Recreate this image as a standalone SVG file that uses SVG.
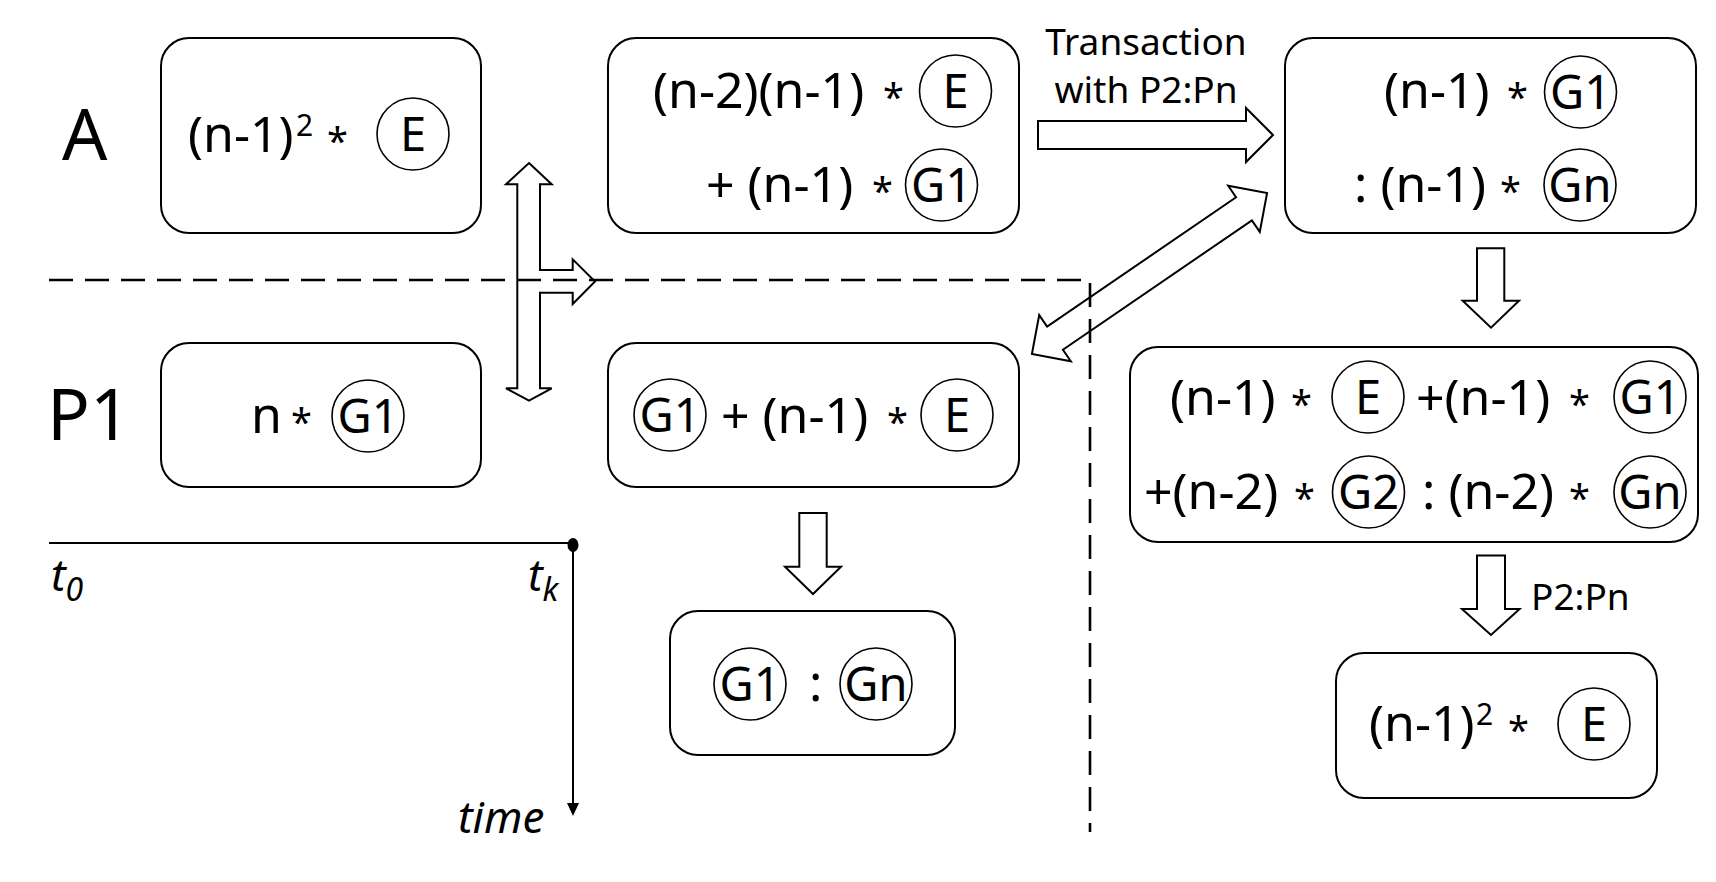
<svg xmlns="http://www.w3.org/2000/svg" width="1716" height="882" viewBox="0 0 1716 882">
<style>
.box{fill:none;stroke:#000;stroke-width:2}
.circ{fill:none;stroke:#000;stroke-width:1.6}
.t{font-family:"Noto Sans","Liberation Sans",sans-serif;font-size:50px;fill:#000}
.c{font-family:"Noto Sans","Liberation Sans",sans-serif;font-size:47px;fill:#000;text-anchor:middle}
.ast{font-size:38px}
.sup{font-size:30px}
.lbl{font-family:"Noto Sans","Liberation Sans",sans-serif;font-size:71px;fill:#000}
.note{font-family:"Noto Sans","Liberation Sans",sans-serif;font-size:37px;fill:#000}
.it{font-family:"Noto Sans","Liberation Sans",sans-serif;font-style:italic;font-size:44px;fill:#000}
.arrow{fill:none;stroke:#000;stroke-width:2;stroke-linejoin:miter}
.dash{fill:none;stroke:#000;stroke-width:2.6;stroke-dasharray:24 12}
.axis{fill:none;stroke:#000;stroke-width:2}
</style>
<rect width="1716" height="882" fill="#fff"/>

<g id="separators">
<path class="dash" d="M49 280 H1090 V832"/>
</g>

<g id="time-axis">
<line class="axis" x1="49" y1="543" x2="573" y2="543"/>
<ellipse cx="573" cy="545" rx="5.5" ry="7" fill="#000"/>
<line class="axis" x1="573" y1="545" x2="573" y2="805"/>
<polygon points="567,803 579,803 573,816" fill="#000"/>
<text class="it" x="51" y="591">t<tspan font-size="32" dy="10">0</tspan></text>
<text class="it" x="528" y="591">t<tspan font-size="32" dy="10">k</tspan></text>
<text class="it" x="458" y="833">time</text>
</g>

<g id="row-labels">
<text class="lbl" x="62" y="160">A</text>
<text class="lbl" x="47" y="440">P1</text>
</g>

<g id="node-a1">
<rect class="box" x="161" y="38" width="320" height="195" rx="28"/>
<text class="t" x="188" y="152">(n-1)</text>
<text class="t sup" x="296" y="136">2</text>
<text class="t ast" x="327" y="155">*</text>
<circle class="circ" cx="413" cy="134" r="36"/>
<text class="c" x="413" y="151">E</text>
</g>

<g id="node-a2">
<rect class="box" x="608" y="38" width="411" height="195" rx="28"/>
<text class="t" x="653" y="108">(n-2)(n-1)</text>
<text class="t ast" x="883" y="111">*</text>
<circle class="circ" cx="955.5" cy="91" r="36"/>
<text class="c" x="955.5" y="108">E</text>
<text class="t" x="706" y="202">+ (n-1)</text>
<text class="t ast" x="872" y="205">*</text>
<circle class="circ" cx="941.5" cy="185" r="36"/>
<text class="c" x="941.5" y="202">G1</text>
</g>

<g id="node-a3">
<rect class="box" x="1285" y="38" width="411" height="195" rx="28"/>
<text class="t" x="1384" y="108">(n-1)</text>
<text class="t ast" x="1507" y="111">*</text>
<circle class="circ" cx="1580.5" cy="92" r="36"/>
<text class="c" x="1580.5" y="109">G1</text>
<text class="t" x="1354" y="202">: (n-1)</text>
<text class="t ast" x="1500" y="205">*</text>
<circle class="circ" cx="1580" cy="185" r="36"/>
<text class="c" x="1580" y="202">Gn</text>
</g>

<g id="node-p1a">
<rect class="box" x="161" y="343" width="320" height="144" rx="28"/>
<text class="t" x="251" y="433">n</text>
<text class="t ast" x="291" y="436">*</text>
<circle class="circ" cx="368" cy="416" r="36"/>
<text class="c" x="368" y="433">G1</text>
</g>

<g id="node-p1b">
<rect class="box" x="608" y="343" width="411" height="144" rx="28"/>
<circle class="circ" cx="670" cy="415" r="36"/>
<text class="c" x="670" y="432">G1</text>
<text class="t" x="721" y="433">+ (n-1)</text>
<text class="t ast" x="887" y="436">*</text>
<circle class="circ" cx="957" cy="415" r="36"/>
<text class="c" x="957" y="432">E</text>
</g>

<g id="node-p1c">
<rect class="box" x="670" y="611" width="285" height="144" rx="28"/>
<circle class="circ" cx="750" cy="684" r="36"/>
<text class="c" x="750" y="701">G1</text>
<text class="t" x="809" y="701">:</text>
<circle class="circ" cx="876" cy="684" r="36"/>
<text class="c" x="876" y="701">Gn</text>
</g>

<g id="node-b4">
<rect class="box" x="1130" y="347" width="568" height="195" rx="28"/>
<text class="t" x="1170" y="415">(n-1)</text>
<text class="t ast" x="1291" y="418">*</text>
<circle class="circ" cx="1368" cy="397" r="36"/>
<text class="c" x="1368" y="414">E</text>
<text class="t" x="1416" y="415">+(n-1)</text>
<text class="t ast" x="1569" y="418">*</text>
<circle class="circ" cx="1650" cy="397" r="36"/>
<text class="c" x="1650" y="414">G1</text>
<text class="t" x="1144" y="509">+(n-2)</text>
<text class="t ast" x="1294" y="512">*</text>
<circle class="circ" cx="1368.5" cy="492" r="36"/>
<text class="c" x="1368.5" y="509">G2</text>
<text class="t" x="1422" y="509">: (n-2)</text>
<text class="t ast" x="1569" y="512">*</text>
<circle class="circ" cx="1650" cy="492" r="36"/>
<text class="c" x="1650" y="509">Gn</text>
</g>

<g id="node-b5">
<rect class="box" x="1336" y="653" width="321" height="145" rx="28"/>
<text class="t" x="1369" y="741">(n-1)</text>
<text class="t sup" x="1476" y="725">2</text>
<text class="t ast" x="1508" y="744">*</text>
<circle class="circ" cx="1594" cy="724" r="36"/>
<text class="c" x="1594" y="741">E</text>
</g>

<g id="connectors">
<polygon class="arrow" points="529,163 551.7,184.3 540,184.3 540,270 572.7,270 572.7,259.3 595,281.5 572.7,304 572.7,292.7 540,292.7 540,388.3 551.7,388.3 529,400.7 506,388.3 517.3,388.3 517.3,184.3 506,184.3"/>
<polygon class="arrow" points="1038,121 1246,121 1246,108 1273,135 1246,162 1246,149 1038,149"/>
<polygon class="arrow" transform="translate(1149.5 273.5) rotate(-34.4)" points="-142.5,0 -114.5,-28 -114.5,-14 114.5,-14 114.5,-28 142.5,0 114.5,28 114.5,14 -114.5,14 -114.5,28"/>
<polygon class="arrow" points="799.3,513 826.7,513 826.7,566.7 841,566.7 813,594 785,566.7 799.3,566.7"/>
<polygon class="arrow" points="1477,248.3 1504.3,248.3 1504.3,300.7 1519,300.7 1491,327.7 1462.7,300.7 1477,300.7"/>
<polygon class="arrow" points="1477,555.5 1505,555.5 1505,609 1519.6,609 1491,635 1462,609 1477,609"/>
<text class="note" x="1146" y="55" text-anchor="middle">Transaction</text>
<text class="note" x="1146" y="103" text-anchor="middle">with P2:Pn</text>
<text class="note" x="1531" y="610" font-size="36">P2:Pn</text>
</g>
</svg>
